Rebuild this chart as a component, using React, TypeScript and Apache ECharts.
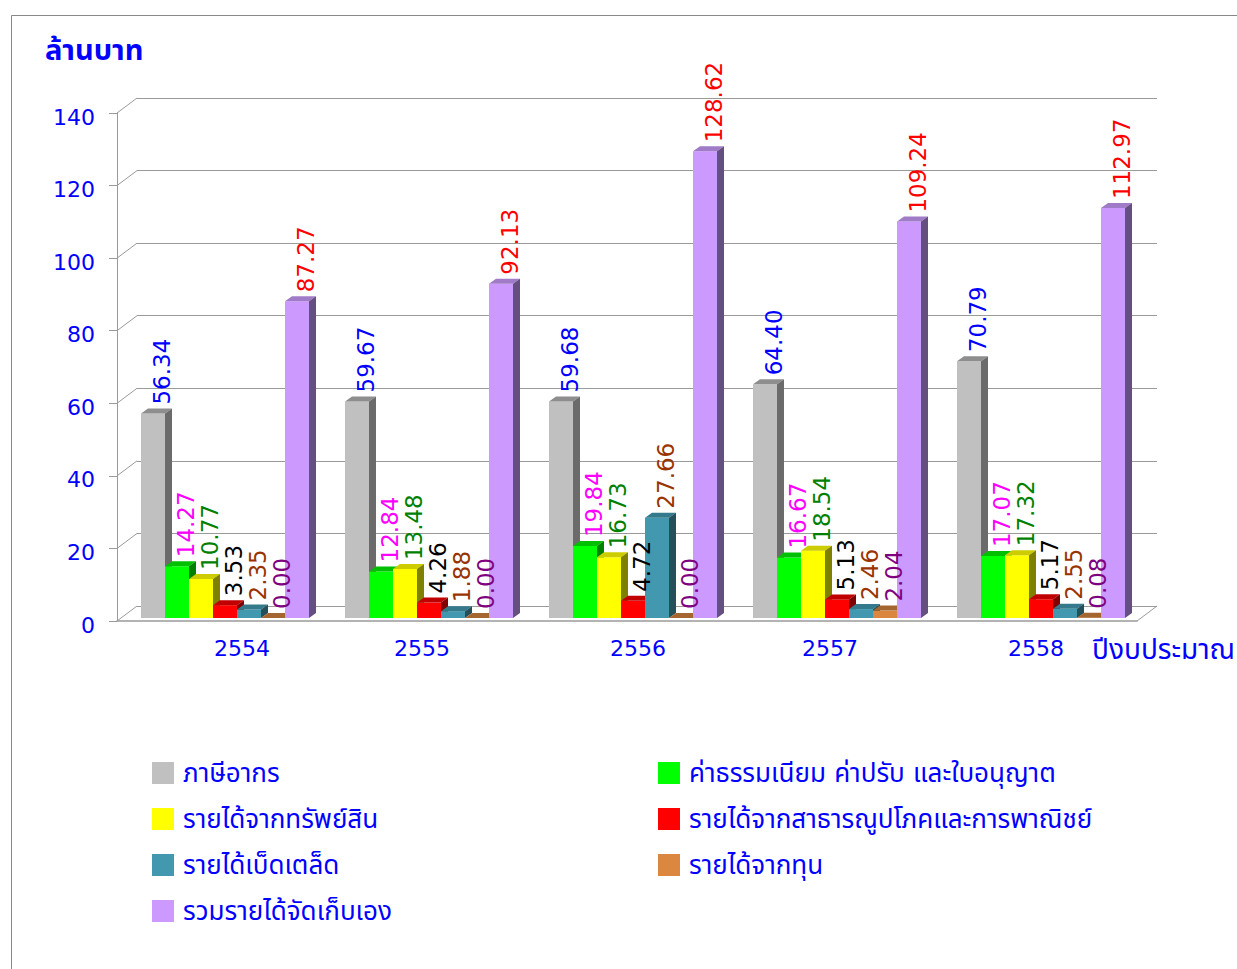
import React, { useEffect, useRef } from "react";
import * as echarts from "echarts";

const categories = ["2554", "2555", "2556", "2557", "2558"];
const seriesNames = [
  "ภาษีอากร",
  "ค่าธรรมเนียม ค่าปรับ และใบอนุญาต",
  "รายได้จากทรัพย์สิน",
  "รายได้จากสาธารณูปโภคและการพาณิชย์",
  "รายได้เบ็ดเตล็ด",
  "รายได้จากทุน",
  "รวมรายได้จัดเก็บเอง",
];
const taxes = [56.34, 59.67, 59.68, 64.4, 70.79];
const fees = [14.27, 12.84, 19.84, 16.67, 17.07];
const property = [10.77, 13.48, 16.73, 18.54, 17.32];
const utilities = [3.53, 4.26, 4.72, 5.13, 5.17];
const misc = [2.35, 1.88, 27.66, 2.46, 2.55];
const capital = [0.0, 0.0, 0.0, 2.04, 0.08];
const totalOwn = [87.27, 92.13, 128.62, 109.24, 112.97];
const yTicks = [0, 20, 40, 60, 80, 100, 120, 140];

const seriesValues = [taxes, fees, property, utilities, misc, capital, totalOwn];

// horizontal nudges of the category labels (px), as placed in the original
const catLabelShift = [23, -1, 11, -1, 1];

const palette = [
  { front: "#C0C0C0", top: "#8E8E8E", side: "#6B6B6B", label: "#0000FF" },
  { front: "#00FF00", top: "#00BF00", side: "#008000", label: "#FF00FF" },
  { front: "#FFFF00", top: "#CCCC00", side: "#808000", label: "#008000" },
  { front: "#FF0000", top: "#C00000", side: "#800000", label: "#000000" },
  { front: "#4198AF", top: "#347A8C", side: "#244F5B", label: "#993300" },
  { front: "#DB873F", top: "#A5652F", side: "#6E4420", label: "#800080" },
  { front: "#CC99FF", top: "#9F7BC8", side: "#654E80", label: "#FF0000" },
];

const FONT = 'Tahoma, Verdana, "DejaVu Sans", "Noto Sans Thai", Loma, Garuda, sans-serif';
const BLUE = "#0000FF";
const GRID_COLOR = "#9A9A9A";
const DX = 7;
const DY = 5;
const OX = 6;
const OY = -3;
const GROUP_RATIO = 168 / 204;
const WALL_DX = 20;
const WALL_DY = 15;

function makeBarRender(idx: number) {
  const c = palette[idx];
  return (params: any, api: any) => {
    const ci = api.value(0);
    const v = api.value(1);
    const top = api.coord([ci, v]);
    const base = api.coord([ci, 0]);
    const band = api.size([1, 0])[0];
    const gw = band * GROUP_RATIO;
    const bw = gw / 7;
    const xl = top[0] - gw / 2 + idx * bw + OX;
    const xr = xl + bw;
    const yt = top[1] + OY;
    const yb = base[1] + OY;
    return {
      type: "group",
      children: [
        {
          type: "rect",
          shape: { x: xl, y: yt, width: bw, height: Math.max(0, yb - yt) },
          style: { fill: c.front },
        },
        {
          type: "polygon",
          shape: { points: [[xl, yt], [xl + DX, yt - DY], [xr + DX, yt - DY], [xr, yt]] },
          style: { fill: c.top },
        },
        {
          type: "polygon",
          shape: { points: [[xr, yt], [xr + DX, yt - DY], [xr + DX, yb - DY], [xr, yb]] },
          style: { fill: c.side },
        },
        {
          type: "text",
          x: xl + bw / 2 + DX / 2 + 5,
          y: yt - DY - 4,
          rotation: Math.PI / 2,
          z2: 100,
          style: {
            text: Number(v).toFixed(2),
            fill: c.label,
            font: `23px ${FONT}`,
            align: "left",
            verticalAlign: "middle",
          },
        },
      ],
    };
  };
}

function wallRender(params: any, api: any) {
  const v = api.value(1);
  const p = api.coord([0, v]);
  const cs = params.coordSys;
  const x0 = cs.x;
  const children: any[] = [
    {
      type: "line",
      shape: { x1: x0, y1: p[1], x2: x0 + WALL_DX, y2: p[1] - WALL_DY },
      style: { stroke: GRID_COLOR, lineWidth: 1 },
    },
  ];
  if (v === 0) {
    children.push({
      type: "line",
      shape: {
        x1: x0 + cs.width,
        y1: p[1],
        x2: x0 + cs.width + WALL_DX,
        y2: p[1] - WALL_DY,
      },
      style: { stroke: GRID_COLOR, lineWidth: 1 },
    });
  }
  return { type: "group", children };
}

export default function App() {
  const ref = useRef<HTMLDivElement>(null);
  useEffect(() => {
    if (!ref.current) return;
    const chart = echarts.init(ref.current, null, { renderer: "svg" });
    const legendText = {
      fontSize: 26,
      color: BLUE,
      fontFamily: FONT,
      lineHeight: 24,
      padding: [0, 0, 0, 4],
    };
    const rich: any = {};
    catLabelShift.forEach((d, i) => {
      rich["c" + i] = {
        color: BLUE,
        fontSize: 22,
        fontFamily: FONT,
        padding: d >= 0 ? [0, 0, 0, 2 * d] : [0, -2 * d, 0, 0],
      };
    });
    const option: any = {
      animation: false,
      backgroundColor: "#FFFFFF",
      title: {
        text: "ล้านบาท",
        left: 40,
        top: 30,
        textStyle: { color: BLUE, fontSize: 29, fontWeight: "bold", fontFamily: FONT },
      },
      legend: [
        {
          orient: "vertical",
          left: 152,
          top: 760,
          padding: 0,
          icon: "rect",
          itemWidth: 22,
          itemHeight: 22,
          itemGap: 20,
          data: [seriesNames[0], seriesNames[2], seriesNames[4], seriesNames[6]],
          textStyle: legendText,
        },
        {
          orient: "vertical",
          left: 658,
          top: 760,
          padding: 0,
          icon: "rect",
          itemWidth: 22,
          itemHeight: 22,
          itemGap: 20,
          data: [seriesNames[1], seriesNames[3], seriesNames[5]],
          textStyle: legendText,
        },
      ],
      grid: [
        { left: 117, top: 113, width: 1020, height: 508, containLabel: false },
        { left: 117 + WALL_DX, top: 113 - WALL_DY, width: 1020, height: 508, containLabel: false },
      ],
      xAxis: [
        {
          type: "category",
          gridIndex: 0,
          data: categories,
          axisLine: { show: true, lineStyle: { color: GRID_COLOR, width: 1.5 } },
          axisTick: { show: false },
          axisLabel: {
            color: BLUE,
            fontSize: 22,
            fontFamily: FONT,
            margin: 16,
            formatter: (val: string, i: number) => `{c${i}|${val}}`,
            rich,
          },
        },
        {
          type: "category",
          gridIndex: 1,
          data: categories,
          show: false,
        },
      ],
      yAxis: [
        {
          type: "value",
          gridIndex: 0,
          min: 0,
          max: 140,
          interval: 20,
          axisLine: { show: true, lineStyle: { color: GRID_COLOR, width: 1 } },
          axisTick: { show: true, length: 8, lineStyle: { color: GRID_COLOR } },
          splitLine: { show: false },
          axisLabel: {
            color: BLUE,
            fontSize: 22,
            fontFamily: FONT,
            margin: 22,
            formatter: (val: number) => `{y|${val}}`,
            rich: {
              y: {
                color: BLUE,
                fontSize: 22,
                fontFamily: FONT,
                padding: [8, 0, 0, 0],
              },
            },
          },
        },
        {
          type: "value",
          gridIndex: 1,
          min: 0,
          max: 140,
          interval: 20,
          axisLine: { show: false },
          axisTick: { show: false },
          axisLabel: { show: false },
          splitLine: { show: true, lineStyle: { color: GRID_COLOR, width: 1 } },
        },
      ],
      series: [
        {
          type: "custom",
          name: "wall",
          xAxisIndex: 0,
          yAxisIndex: 0,
          silent: true,
          z: 1,
          data: yTicks.map((t) => [0, t]),
          renderItem: wallRender,
        },
        ...seriesNames.map((name, i) => ({
          type: "custom",
          name,
          xAxisIndex: 0,
          yAxisIndex: 0,
          z: 3,
          itemStyle: { color: palette[i].front },
          data: seriesValues[i].map((v, ci) => [ci, v]),
          renderItem: makeBarRender(i),
        })),
      ],
      graphic: [
        {
          type: "rect",
          silent: true,
          z: -10,
          shape: { x: 11.5, y: 15.5, width: 1300, height: 1000 },
          style: { fill: "none", stroke: "#888888", lineWidth: 1 },
        },
        {
          type: "text",
          x: 1092,
          y: 649,
          style: {
            text: "ปีงบประมาณ",
            fill: BLUE,
            font: `28px ${FONT}`,
            align: "left",
            verticalAlign: "middle",
          },
        },
      ],
    };
    chart.setOption(option);
    return () => chart.dispose();
  }, []);
  return (
    <div
      ref={ref}
      style={{ position: "absolute", left: 0, top: 0, width: 1237, height: 969 }}
    />
  );
}
